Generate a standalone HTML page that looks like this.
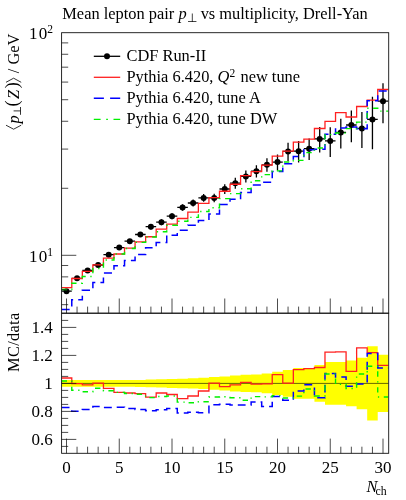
<!DOCTYPE html><html><head><meta charset="utf-8"><style>html,body{margin:0;padding:0;background:#fff}body{width:406px;height:500px;position:relative;overflow:hidden;font-family:"Liberation Serif",serif}</style></head><body><svg width="406" height="500" viewBox="0 0 406 500" style="position:absolute;left:0;top:0;will-change:transform">
<defs><clipPath id="cm"><rect x="61.60" y="32.70" width="327.10" height="280.50"/></clipPath><clipPath id="cr"><rect x="61.60" y="313.20" width="327.10" height="140.10"/></clipPath></defs>
<g clip-path="url(#cr)">
<path d="M61.60 380.04 L71.78 380.04 L71.78 380.04 L82.33 380.04 L82.33 380.04 L92.88 380.04 L92.88 380.04 L103.43 380.04 L103.43 380.04 L113.97 380.04 L113.97 380.04 L124.53 380.04 L124.53 380.04 L135.07 380.04 L135.07 379.90 L145.62 379.90 L145.62 379.48 L156.18 379.48 L156.18 379.20 L166.73 379.20 L166.73 378.92 L177.28 378.92 L177.28 378.64 L187.82 378.64 L187.82 378.36 L198.38 378.36 L198.38 377.80 L208.93 377.80 L208.93 377.10 L219.48 377.10 L219.48 376.40 L230.03 376.40 L230.03 375.42 L240.58 375.42 L240.58 374.72 L251.12 374.72 L251.12 374.58 L261.68 374.58 L261.68 373.60 L272.23 373.60 L272.23 371.78 L282.77 371.78 L282.77 370.10 L293.33 370.10 L293.33 368.00 L303.88 368.00 L303.88 368.00 L314.43 368.00 L314.43 365.06 L324.98 365.06 L324.98 361.98 L335.53 361.98 L335.53 361.98 L346.08 361.98 L346.08 360.58 L356.62 360.58 L356.62 357.64 L367.18 357.64 L367.18 346.30 L377.73 346.30 L377.73 354.84 L388.28 354.84 L388.28 411.96 L377.73 411.96 L377.73 420.50 L367.18 420.50 L367.18 409.16 L356.62 409.16 L356.62 406.22 L346.08 406.22 L346.08 404.82 L335.53 404.82 L335.53 404.82 L324.98 404.82 L324.98 401.74 L314.43 401.74 L314.43 398.80 L303.88 398.80 L303.88 398.80 L293.33 398.80 L293.33 396.70 L282.77 396.70 L282.77 395.02 L272.23 395.02 L272.23 393.20 L261.68 393.20 L261.68 392.22 L251.12 392.22 L251.12 392.08 L240.58 392.08 L240.58 391.38 L230.03 391.38 L230.03 390.40 L219.48 390.40 L219.48 389.70 L208.93 389.70 L208.93 389.00 L198.38 389.00 L198.38 388.44 L187.82 388.44 L187.82 388.16 L177.28 388.16 L177.28 387.88 L166.73 387.88 L166.73 387.60 L156.18 387.60 L156.18 387.32 L145.62 387.32 L145.62 386.90 L135.07 386.90 L135.07 386.76 L124.53 386.76 L124.53 386.76 L113.97 386.76 L113.97 386.76 L103.43 386.76 L103.43 386.76 L92.88 386.76 L92.88 386.76 L82.33 386.76 L82.33 386.76 L71.78 386.76 L71.78 386.76 L61.60 386.76 Z" fill="#ffff00"/>
<line x1="61.60" x2="388.70" y1="383.40" y2="383.40" stroke="#000" stroke-width="0.6"/>
<path d="M61.60 378.00 L71.78 378.00 L71.78 383.70 L82.33 383.70 L82.33 384.80 L92.88 384.80 L92.88 383.10 L103.43 383.10 L103.43 388.30 L113.97 388.30 L113.97 392.40 L124.53 392.40 L124.53 393.00 L135.07 393.00 L135.07 393.70 L145.62 393.70 L145.62 397.20 L156.18 397.20 L156.18 393.00 L166.73 393.00 L166.73 394.50 L177.28 394.50 L177.28 398.60 L187.82 398.60 L187.82 396.00 L198.38 396.00 L198.38 391.00 L208.93 391.00 L208.93 383.10 L219.48 383.10 L219.48 386.60 L230.03 386.60 L230.03 384.90 L240.58 384.90 L240.58 382.40 L251.12 382.40 L251.12 384.10 L261.68 384.10 L261.68 383.90 L272.23 383.90 L272.23 374.60 L282.77 374.60 L282.77 383.10 L293.33 383.10 L293.33 369.60 L303.88 369.60 L303.88 368.70 L314.43 368.70 L314.43 367.50 L324.98 367.50 L324.98 352.20 L335.53 352.20 L335.53 351.80 L346.08 351.80 L346.08 371.30 L356.62 371.30 L356.62 347.80 L367.18 347.80 L367.18 352.60 L377.73 352.60 L377.73 365.40 L388.28 365.40" fill="none" stroke="#ff2020" stroke-width="1.3"/>
<path d="M61.60 407.50 L71.78 407.50 L71.78 411.30 L82.33 411.30 L82.33 409.40 L92.88 409.40 L92.88 406.60 L103.43 406.60 L103.43 407.40 L113.97 407.40 L113.97 407.30 L124.53 407.30 L124.53 408.60 L135.07 408.60 L135.07 409.50 L145.62 409.50 L145.62 410.80 L156.18 410.80 L156.18 409.80 L166.73 409.80 L166.73 408.50 L177.28 408.50 L177.28 413.00 L187.82 413.00 L187.82 412.20 L198.38 412.20 L198.38 412.70 L208.93 412.70 L208.93 404.80 L219.48 404.80 L219.48 404.20 L230.03 404.20 L230.03 404.90 L240.58 404.90 L240.58 405.00 L251.12 405.00 L251.12 402.10 L261.68 402.10 L261.68 406.50 L272.23 406.50 L272.23 396.50 L282.77 396.50 L282.77 400.30 L293.33 400.30 L293.33 391.00 L303.88 391.00 L303.88 384.80 L314.43 384.80 L314.43 397.70 L324.98 397.70 L324.98 373.60 L335.53 373.60 L335.53 377.00 L346.08 377.00 L346.08 386.20 L356.62 386.20 L356.62 384.00 L367.18 384.00 L367.18 353.40 L377.73 353.40 L377.73 368.00 L388.28 368.00" fill="none" stroke="#0000ff" stroke-width="1.5" stroke-dasharray="7.9 5"/>
<path d="M61.60 381.00 L71.78 381.00 L71.78 390.30 L82.33 390.30 L82.33 391.80 L92.88 391.80 L92.88 388.30 L103.43 388.30 L103.43 390.80 L113.97 390.80 L113.97 392.40 L124.53 392.40 L124.53 393.50 L135.07 393.50 L135.07 394.30 L145.62 394.30 L145.62 397.60 L156.18 397.60 L156.18 396.50 L166.73 396.50 L166.73 396.00 L177.28 396.00 L177.28 402.10 L187.82 402.10 L187.82 402.80 L198.38 402.80 L198.38 401.70 L208.93 401.70 L208.93 397.00 L219.48 397.00 L219.48 396.70 L230.03 396.70 L230.03 397.70 L240.58 397.70 L240.58 400.20 L251.12 400.20 L251.12 396.60 L261.68 396.60 L261.68 396.90 L272.23 396.90 L272.23 395.60 L282.77 395.60 L282.77 398.00 L293.33 398.00 L293.33 396.10 L303.88 396.10 L303.88 389.00 L314.43 389.00 L314.43 396.00 L324.98 396.00 L324.98 374.00 L335.53 374.00 L335.53 384.30 L346.08 384.30 L346.08 388.50 L356.62 388.50 L356.62 374.00 L367.18 374.00 L367.18 366.20 L377.73 366.20 L377.73 397.00 L388.28 397.00" fill="none" stroke="#00f000" stroke-width="1.4" stroke-dasharray="5.4 4.6 1.3 4.6"/>
</g>
<g clip-path="url(#cm)">
<line x1="66.50" x2="66.50" y1="288.91" y2="293.55" stroke="#000" stroke-width="1.3"/>
<line x1="61.23" x2="71.78" y1="291.20" y2="291.20" stroke="#000" stroke-width="1.3"/>
<circle cx="66.50" cy="291.20" r="3" fill="#000"/>
<line x1="77.05" x2="77.05" y1="276.01" y2="280.65" stroke="#000" stroke-width="1.3"/>
<line x1="71.77" x2="82.33" y1="278.30" y2="278.30" stroke="#000" stroke-width="1.3"/>
<circle cx="77.05" cy="278.30" r="3" fill="#000"/>
<line x1="87.60" x2="87.60" y1="268.21" y2="272.85" stroke="#000" stroke-width="1.3"/>
<line x1="82.32" x2="92.88" y1="270.50" y2="270.50" stroke="#000" stroke-width="1.3"/>
<circle cx="87.60" cy="270.50" r="3" fill="#000"/>
<line x1="98.15" x2="98.15" y1="262.71" y2="267.35" stroke="#000" stroke-width="1.3"/>
<line x1="92.88" x2="103.43" y1="265.00" y2="265.00" stroke="#000" stroke-width="1.3"/>
<circle cx="98.15" cy="265.00" r="3" fill="#000"/>
<line x1="108.70" x2="108.70" y1="252.41" y2="257.05" stroke="#000" stroke-width="1.3"/>
<line x1="103.42" x2="113.98" y1="254.70" y2="254.70" stroke="#000" stroke-width="1.3"/>
<circle cx="108.70" cy="254.70" r="3" fill="#000"/>
<line x1="119.25" x2="119.25" y1="245.31" y2="249.95" stroke="#000" stroke-width="1.3"/>
<line x1="113.97" x2="124.53" y1="247.60" y2="247.60" stroke="#000" stroke-width="1.3"/>
<circle cx="119.25" cy="247.60" r="3" fill="#000"/>
<line x1="129.80" x2="129.80" y1="238.91" y2="243.55" stroke="#000" stroke-width="1.3"/>
<line x1="124.53" x2="135.08" y1="241.20" y2="241.20" stroke="#000" stroke-width="1.3"/>
<circle cx="129.80" cy="241.20" r="3" fill="#000"/>
<line x1="140.35" x2="140.35" y1="232.11" y2="236.95" stroke="#000" stroke-width="1.3"/>
<line x1="135.08" x2="145.63" y1="234.50" y2="234.50" stroke="#000" stroke-width="1.3"/>
<circle cx="140.35" cy="234.50" r="3" fill="#000"/>
<line x1="150.90" x2="150.90" y1="224.03" y2="229.45" stroke="#000" stroke-width="1.3"/>
<line x1="145.62" x2="156.18" y1="226.70" y2="226.70" stroke="#000" stroke-width="1.3"/>
<circle cx="150.90" cy="226.70" r="3" fill="#000"/>
<line x1="161.45" x2="161.45" y1="219.34" y2="225.14" stroke="#000" stroke-width="1.3"/>
<line x1="156.17" x2="166.72" y1="222.20" y2="222.20" stroke="#000" stroke-width="1.3"/>
<circle cx="161.45" cy="222.20" r="3" fill="#000"/>
<line x1="172.00" x2="172.00" y1="213.15" y2="219.34" stroke="#000" stroke-width="1.3"/>
<line x1="166.72" x2="177.28" y1="216.20" y2="216.20" stroke="#000" stroke-width="1.3"/>
<circle cx="172.00" cy="216.20" r="3" fill="#000"/>
<line x1="182.55" x2="182.55" y1="204.17" y2="210.74" stroke="#000" stroke-width="1.3"/>
<line x1="177.28" x2="187.83" y1="207.40" y2="207.40" stroke="#000" stroke-width="1.3"/>
<circle cx="182.55" cy="207.40" r="3" fill="#000"/>
<line x1="193.10" x2="193.10" y1="199.58" y2="206.54" stroke="#000" stroke-width="1.3"/>
<line x1="187.83" x2="198.38" y1="203.00" y2="203.00" stroke="#000" stroke-width="1.3"/>
<circle cx="193.10" cy="203.00" r="3" fill="#000"/>
<line x1="203.65" x2="203.65" y1="194.11" y2="201.85" stroke="#000" stroke-width="1.3"/>
<line x1="198.38" x2="208.93" y1="197.90" y2="197.90" stroke="#000" stroke-width="1.3"/>
<circle cx="203.65" cy="197.90" r="3" fill="#000"/>
<line x1="214.20" x2="214.20" y1="193.64" y2="202.35" stroke="#000" stroke-width="1.3"/>
<line x1="208.93" x2="219.48" y1="197.90" y2="197.90" stroke="#000" stroke-width="1.3"/>
<circle cx="214.20" cy="197.90" r="3" fill="#000"/>
<line x1="224.75" x2="224.75" y1="184.28" y2="193.96" stroke="#000" stroke-width="1.3"/>
<line x1="219.47" x2="230.03" y1="189.00" y2="189.00" stroke="#000" stroke-width="1.3"/>
<circle cx="224.75" cy="189.00" r="3" fill="#000"/>
<line x1="235.30" x2="235.30" y1="177.84" y2="188.87" stroke="#000" stroke-width="1.3"/>
<line x1="230.03" x2="240.58" y1="183.20" y2="183.20" stroke="#000" stroke-width="1.3"/>
<circle cx="235.30" cy="183.20" r="3" fill="#000"/>
<line x1="245.85" x2="245.85" y1="170.58" y2="182.59" stroke="#000" stroke-width="1.3"/>
<line x1="240.58" x2="251.13" y1="176.40" y2="176.40" stroke="#000" stroke-width="1.3"/>
<circle cx="245.85" cy="176.40" r="3" fill="#000"/>
<line x1="256.40" x2="256.40" y1="165.29" y2="177.49" stroke="#000" stroke-width="1.3"/>
<line x1="251.12" x2="261.67" y1="171.20" y2="171.20" stroke="#000" stroke-width="1.3"/>
<circle cx="256.40" cy="171.20" r="3" fill="#000"/>
<line x1="266.95" x2="266.95" y1="158.26" y2="171.82" stroke="#000" stroke-width="1.3"/>
<line x1="261.68" x2="272.23" y1="164.80" y2="164.80" stroke="#000" stroke-width="1.3"/>
<circle cx="266.95" cy="164.80" r="3" fill="#000"/>
<line x1="277.50" x2="277.50" y1="154.39" y2="170.48" stroke="#000" stroke-width="1.3"/>
<line x1="272.23" x2="282.77" y1="162.10" y2="162.10" stroke="#000" stroke-width="1.3"/>
<circle cx="277.50" cy="162.10" r="3" fill="#000"/>
<line x1="288.05" x2="288.05" y1="142.63" y2="161.05" stroke="#000" stroke-width="1.3"/>
<line x1="282.78" x2="293.32" y1="151.40" y2="151.40" stroke="#000" stroke-width="1.3"/>
<circle cx="288.05" cy="151.40" r="3" fill="#000"/>
<line x1="298.60" x2="298.60" y1="141.11" y2="162.47" stroke="#000" stroke-width="1.3"/>
<line x1="293.33" x2="303.88" y1="151.20" y2="151.20" stroke="#000" stroke-width="1.3"/>
<circle cx="298.60" cy="151.20" r="3" fill="#000"/>
<line x1="309.15" x2="309.15" y1="138.61" y2="159.97" stroke="#000" stroke-width="1.3"/>
<line x1="303.88" x2="314.42" y1="148.70" y2="148.70" stroke="#000" stroke-width="1.3"/>
<circle cx="309.15" cy="148.70" r="3" fill="#000"/>
<line x1="319.70" x2="319.70" y1="127.00" y2="152.47" stroke="#000" stroke-width="1.3"/>
<line x1="314.43" x2="324.98" y1="138.90" y2="138.90" stroke="#000" stroke-width="1.3"/>
<circle cx="319.70" cy="138.90" r="3" fill="#000"/>
<line x1="330.25" x2="330.25" y1="127.14" y2="156.95" stroke="#000" stroke-width="1.3"/>
<line x1="324.98" x2="335.52" y1="140.90" y2="140.90" stroke="#000" stroke-width="1.3"/>
<circle cx="330.25" cy="140.90" r="3" fill="#000"/>
<line x1="340.80" x2="340.80" y1="118.64" y2="148.45" stroke="#000" stroke-width="1.3"/>
<line x1="335.53" x2="346.07" y1="132.40" y2="132.40" stroke="#000" stroke-width="1.3"/>
<circle cx="340.80" cy="132.40" r="3" fill="#000"/>
<line x1="351.35" x2="351.35" y1="110.40" y2="142.20" stroke="#000" stroke-width="1.3"/>
<line x1="346.08" x2="356.62" y1="125.00" y2="125.00" stroke="#000" stroke-width="1.3"/>
<circle cx="351.35" cy="125.00" r="3" fill="#000"/>
<line x1="361.90" x2="361.90" y1="112.07" y2="148.06" stroke="#000" stroke-width="1.3"/>
<line x1="356.63" x2="367.18" y1="128.40" y2="128.40" stroke="#000" stroke-width="1.3"/>
<circle cx="361.90" cy="128.40" r="3" fill="#000"/>
<line x1="372.45" x2="372.45" y1="96.67" y2="149.16" stroke="#000" stroke-width="1.3"/>
<line x1="367.18" x2="377.73" y1="119.40" y2="119.40" stroke="#000" stroke-width="1.3"/>
<circle cx="372.45" cy="119.40" r="3" fill="#000"/>
<line x1="383.00" x2="383.00" y1="83.25" y2="123.26" stroke="#000" stroke-width="1.3"/>
<line x1="377.73" x2="388.27" y1="101.20" y2="101.20" stroke="#000" stroke-width="1.3"/>
<circle cx="383.00" cy="101.20" r="3" fill="#000"/>
<path d="M61.60 287.54 L71.78 287.54 L71.78 278.51 L82.33 278.51 L82.33 271.47 L92.88 271.47 L92.88 264.79 L103.43 264.79 L103.43 258.14 L113.97 258.14 L113.97 254.02 L124.53 254.02 L124.53 248.07 L135.07 248.07 L135.07 241.89 L145.62 241.89 L145.62 236.73 L156.18 236.73 L156.18 229.07 L166.73 229.07 L166.73 224.19 L177.28 224.19 L177.28 218.51 L187.82 218.51 L187.82 212.12 L198.38 212.12 L198.38 203.30 L208.93 203.30 L208.93 197.69 L219.48 197.69 L219.48 191.24 L230.03 191.24 L230.03 184.24 L240.58 184.24 L240.58 175.71 L251.12 175.71 L251.12 171.68 L261.68 171.68 L261.68 165.15 L272.23 165.15 L272.23 156.21 L282.77 156.21 L282.77 151.19 L293.33 151.19 L293.33 142.11 L303.88 142.11 L303.88 139.05 L314.43 139.05 L314.43 128.50 L324.98 128.50 L324.98 121.45 L335.53 121.45 L335.53 112.72 L346.08 112.72 L346.08 116.99 L356.62 116.99 L356.62 106.50 L367.18 106.50 L367.18 100.18 L377.73 100.18 L377.73 89.51 L388.28 89.51" fill="none" stroke="#ff2020" stroke-width="1.3"/>
<path d="M61.60 309.46 L71.78 309.46 L71.78 299.79 L82.33 299.79 L82.33 290.36 L92.88 290.36 L92.88 282.52 L103.43 282.52 L103.43 272.88 L113.97 272.88 L113.97 265.70 L124.53 265.70 L124.53 260.39 L135.07 260.39 L135.07 254.45 L145.62 254.45 L145.62 247.76 L156.18 247.76 L156.18 242.40 L166.73 242.40 L166.73 235.30 L177.28 235.30 L177.28 230.36 L187.82 230.36 L187.82 225.27 L198.38 225.27 L198.38 220.60 L208.93 220.60 L208.93 213.94 L219.48 213.94 L219.48 204.55 L230.03 204.55 L230.03 199.32 L240.58 199.32 L240.58 192.60 L251.12 192.60 L251.12 185.06 L261.68 185.06 L261.68 182.23 L272.23 182.23 L272.23 171.60 L282.77 171.60 L282.77 163.84 L293.33 163.84 L293.33 156.60 L303.88 156.60 L303.88 149.67 L314.43 149.67 L314.43 149.32 L324.98 149.32 L324.98 134.36 L335.53 134.36 L335.53 128.08 L346.08 128.08 L346.08 126.95 L356.62 126.95 L356.62 128.82 L367.18 128.82 L367.18 100.63 L377.73 100.63 L377.73 91.11 L388.28 91.11" fill="none" stroke="#0000ff" stroke-width="1.5" stroke-dasharray="8.05 5.1"/>
<path d="M61.60 289.56 L71.78 289.56 L71.78 283.19 L82.33 283.19 L82.33 276.48 L92.88 276.48 L92.88 268.44 L103.43 268.44 L103.43 259.95 L113.97 259.95 L113.97 254.02 L124.53 254.02 L124.53 248.44 L135.07 248.44 L135.07 242.34 L145.62 242.34 L145.62 237.04 L156.18 237.04 L156.18 231.70 L166.73 231.70 L166.73 225.32 L177.28 225.32 L177.28 221.26 L187.82 221.26 L187.82 217.42 L198.38 217.42 L198.38 211.44 L208.93 211.44 L208.93 207.78 L219.48 207.78 L219.48 198.65 L230.03 198.65 L230.03 193.62 L240.58 193.62 L240.58 188.76 L251.12 188.76 L251.12 180.77 L261.68 180.77 L261.68 174.60 L272.23 174.60 L272.23 170.91 L282.77 170.91 L282.77 162.05 L293.33 162.05 L293.33 160.39 L303.88 160.39 L303.88 152.65 L314.43 152.65 L314.43 148.02 L324.98 148.02 L324.98 134.62 L335.53 134.62 L335.53 133.02 L346.08 133.02 L346.08 128.59 L356.62 128.59 L356.62 122.12 L367.18 122.12 L367.18 108.20 L377.73 108.20 L377.73 111.08 L388.28 111.08" fill="none" stroke="#00f000" stroke-width="1.4" stroke-dasharray="5.4 4.6 1.3 4.6"/>
</g>
<g stroke="#111" stroke-width="0.9" fill="none">
<rect x="61.60" y="32.70" width="327.10" height="280.50"/>
<rect x="61.60" y="313.20" width="327.10" height="140.10"/>
</g><g stroke="#111" stroke-width="0.75" fill="none">
<line x1="66.50" x2="66.50" y1="313.20" y2="298.50"/>
<line x1="66.50" x2="66.50" y1="453.30" y2="438.60"/>
<line x1="77.05" x2="77.05" y1="313.20" y2="306.60"/>
<line x1="77.05" x2="77.05" y1="453.30" y2="446.70"/>
<line x1="87.60" x2="87.60" y1="313.20" y2="306.60"/>
<line x1="87.60" x2="87.60" y1="453.30" y2="446.70"/>
<line x1="98.15" x2="98.15" y1="313.20" y2="306.60"/>
<line x1="98.15" x2="98.15" y1="453.30" y2="446.70"/>
<line x1="108.70" x2="108.70" y1="313.20" y2="306.60"/>
<line x1="108.70" x2="108.70" y1="453.30" y2="446.70"/>
<line x1="119.25" x2="119.25" y1="313.20" y2="298.50"/>
<line x1="119.25" x2="119.25" y1="453.30" y2="438.60"/>
<line x1="129.80" x2="129.80" y1="313.20" y2="306.60"/>
<line x1="129.80" x2="129.80" y1="453.30" y2="446.70"/>
<line x1="140.35" x2="140.35" y1="313.20" y2="306.60"/>
<line x1="140.35" x2="140.35" y1="453.30" y2="446.70"/>
<line x1="150.90" x2="150.90" y1="313.20" y2="306.60"/>
<line x1="150.90" x2="150.90" y1="453.30" y2="446.70"/>
<line x1="161.45" x2="161.45" y1="313.20" y2="306.60"/>
<line x1="161.45" x2="161.45" y1="453.30" y2="446.70"/>
<line x1="172.00" x2="172.00" y1="313.20" y2="298.50"/>
<line x1="172.00" x2="172.00" y1="453.30" y2="438.60"/>
<line x1="182.55" x2="182.55" y1="313.20" y2="306.60"/>
<line x1="182.55" x2="182.55" y1="453.30" y2="446.70"/>
<line x1="193.10" x2="193.10" y1="313.20" y2="306.60"/>
<line x1="193.10" x2="193.10" y1="453.30" y2="446.70"/>
<line x1="203.65" x2="203.65" y1="313.20" y2="306.60"/>
<line x1="203.65" x2="203.65" y1="453.30" y2="446.70"/>
<line x1="214.20" x2="214.20" y1="313.20" y2="306.60"/>
<line x1="214.20" x2="214.20" y1="453.30" y2="446.70"/>
<line x1="224.75" x2="224.75" y1="313.20" y2="298.50"/>
<line x1="224.75" x2="224.75" y1="453.30" y2="438.60"/>
<line x1="235.30" x2="235.30" y1="313.20" y2="306.60"/>
<line x1="235.30" x2="235.30" y1="453.30" y2="446.70"/>
<line x1="245.85" x2="245.85" y1="313.20" y2="306.60"/>
<line x1="245.85" x2="245.85" y1="453.30" y2="446.70"/>
<line x1="256.40" x2="256.40" y1="313.20" y2="306.60"/>
<line x1="256.40" x2="256.40" y1="453.30" y2="446.70"/>
<line x1="266.95" x2="266.95" y1="313.20" y2="306.60"/>
<line x1="266.95" x2="266.95" y1="453.30" y2="446.70"/>
<line x1="277.50" x2="277.50" y1="313.20" y2="298.50"/>
<line x1="277.50" x2="277.50" y1="453.30" y2="438.60"/>
<line x1="288.05" x2="288.05" y1="313.20" y2="306.60"/>
<line x1="288.05" x2="288.05" y1="453.30" y2="446.70"/>
<line x1="298.60" x2="298.60" y1="313.20" y2="306.60"/>
<line x1="298.60" x2="298.60" y1="453.30" y2="446.70"/>
<line x1="309.15" x2="309.15" y1="313.20" y2="306.60"/>
<line x1="309.15" x2="309.15" y1="453.30" y2="446.70"/>
<line x1="319.70" x2="319.70" y1="313.20" y2="306.60"/>
<line x1="319.70" x2="319.70" y1="453.30" y2="446.70"/>
<line x1="330.25" x2="330.25" y1="313.20" y2="298.50"/>
<line x1="330.25" x2="330.25" y1="453.30" y2="438.60"/>
<line x1="340.80" x2="340.80" y1="313.20" y2="306.60"/>
<line x1="340.80" x2="340.80" y1="453.30" y2="446.70"/>
<line x1="351.35" x2="351.35" y1="313.20" y2="306.60"/>
<line x1="351.35" x2="351.35" y1="453.30" y2="446.70"/>
<line x1="361.90" x2="361.90" y1="313.20" y2="306.60"/>
<line x1="361.90" x2="361.90" y1="453.30" y2="446.70"/>
<line x1="372.45" x2="372.45" y1="313.20" y2="306.60"/>
<line x1="372.45" x2="372.45" y1="453.30" y2="446.70"/>
<line x1="383.00" x2="383.00" y1="313.20" y2="298.50"/>
<line x1="383.00" x2="383.00" y1="453.30" y2="438.60"/>
<line x1="61.60" x2="68.20" y1="304.68" y2="304.68"/>
<line x1="61.60" x2="68.20" y1="289.78" y2="289.78"/>
<line x1="61.60" x2="68.20" y1="276.87" y2="276.87"/>
<line x1="61.60" x2="68.20" y1="265.49" y2="265.49"/>
<line x1="61.60" x2="76.30" y1="255.30" y2="255.30"/>
<line x1="61.60" x2="68.20" y1="188.29" y2="188.29"/>
<line x1="61.60" x2="68.20" y1="149.09" y2="149.09"/>
<line x1="61.60" x2="68.20" y1="121.28" y2="121.28"/>
<line x1="61.60" x2="68.20" y1="99.71" y2="99.71"/>
<line x1="61.60" x2="68.20" y1="82.08" y2="82.08"/>
<line x1="61.60" x2="68.20" y1="67.18" y2="67.18"/>
<line x1="61.60" x2="68.20" y1="54.27" y2="54.27"/>
<line x1="61.60" x2="68.20" y1="42.89" y2="42.89"/>
<line x1="61.60" x2="68.20" y1="446.40" y2="446.40"/>
<line x1="61.60" x2="76.30" y1="439.40" y2="439.40"/>
<line x1="61.60" x2="68.20" y1="432.40" y2="432.40"/>
<line x1="61.60" x2="68.20" y1="425.40" y2="425.40"/>
<line x1="61.60" x2="68.20" y1="418.40" y2="418.40"/>
<line x1="61.60" x2="76.30" y1="411.40" y2="411.40"/>
<line x1="61.60" x2="68.20" y1="404.40" y2="404.40"/>
<line x1="61.60" x2="68.20" y1="397.40" y2="397.40"/>
<line x1="61.60" x2="68.20" y1="390.40" y2="390.40"/>
<line x1="61.60" x2="76.30" y1="383.40" y2="383.40"/>
<line x1="61.60" x2="68.20" y1="376.40" y2="376.40"/>
<line x1="61.60" x2="68.20" y1="369.40" y2="369.40"/>
<line x1="61.60" x2="68.20" y1="362.40" y2="362.40"/>
<line x1="61.60" x2="76.30" y1="355.40" y2="355.40"/>
<line x1="61.60" x2="68.20" y1="348.40" y2="348.40"/>
<line x1="61.60" x2="68.20" y1="341.40" y2="341.40"/>
<line x1="61.60" x2="68.20" y1="334.40" y2="334.40"/>
<line x1="61.60" x2="76.30" y1="327.40" y2="327.40"/>
<line x1="61.60" x2="68.20" y1="320.40" y2="320.40"/>
</g>
<line x1="93.80" x2="120.20" y1="56.3" y2="56.3" stroke="#000" stroke-width="1.3"/>
<circle cx="107" cy="56.3" r="3" fill="#000"/>
<line x1="93.80" x2="120.20" y1="77.3" y2="77.3" stroke="#ff2020" stroke-width="1.3"/>
<line x1="93.80" x2="120.20" y1="98.3" y2="98.3" stroke="#0000ff" stroke-width="1.5" stroke-dasharray="10.1 6.2"/>
<line x1="93.80" x2="120.20" y1="119.4" y2="119.4" stroke="#00f000" stroke-width="1.4" stroke-dasharray="6.8 5.6 1.7 5.6"/>
<g font-family="Liberation Serif, serif" font-size="16.4" fill="#000">
<text x="62.3" y="18.6">Mean lepton pair <tspan font-style="italic">p</tspan><tspan font-size="11.5" dy="3">⊥</tspan><tspan dy="-3"> vs multiplicity, Drell-Yan</tspan></text>
<text x="126.5" y="61.2">CDF Run-II</text>
<text x="126.5" y="82.2">Pythia 6.420, <tspan font-style="italic">Q</tspan><tspan font-size="11.5" dy="-5.5">2</tspan><tspan dy="5.5" dx="1.2"> new tune</tspan></text>
<text x="126.5" y="103.2">Pythia 6.420, tune A</text>
<text x="126.5" y="124.2">Pythia 6.420, tune DW</text>
<text x="53" y="39.4" text-anchor="end" font-size="17"><tspan letter-spacing="1.3">1</tspan>0<tspan font-size="11.5" dy="-6">2</tspan></text>
<text x="53" y="262.2" text-anchor="end" font-size="17"><tspan letter-spacing="1.3">1</tspan>0<tspan font-size="11.5" dy="-6">1</tspan></text>
<text x="52.7" y="332.7" text-anchor="end" font-size="17">1.4</text>
<text x="52.7" y="360.7" text-anchor="end" font-size="17">1.2</text>
<text x="52.7" y="388.7" text-anchor="end" font-size="17">1</text>
<text x="52.7" y="416.7" text-anchor="end" font-size="17">0.8</text>
<text x="52.7" y="444.7" text-anchor="end" font-size="17">0.6</text>
<text x="66.5" y="472.7" text-anchor="middle" font-size="17">0</text>
<text x="119.2" y="472.7" text-anchor="middle" font-size="17">5</text>
<text x="172.0" y="472.7" text-anchor="middle" font-size="17">10</text>
<text x="224.8" y="472.7" text-anchor="middle" font-size="17">15</text>
<text x="277.5" y="472.7" text-anchor="middle" font-size="17">20</text>
<text x="330.2" y="472.7" text-anchor="middle" font-size="17">25</text>
<text x="383.0" y="472.7" text-anchor="middle" font-size="17">30</text>
<text x="366.6" y="491.8" font-style="italic">N</text>
<text x="375.6" y="494.8" font-size="11.8">ch</text>
<g transform="translate(19.3,33.3) rotate(-90)">
<text x="-0.3" y="0" text-anchor="end">/ GeV</text>
<polyline points="-49,-13.3 -44.9,-5.7 -49,1.9" fill="none" stroke="#000" stroke-width="0.8"/>
<text x="-54.9" y="-1.3" font-size="18">)</text>
<text x="-65.7" y="0" font-style="italic">Z</text>
<text x="-73.3" y="-1.3" font-size="18">(</text>
<path d="M-81.5 1.2 H-73.7 M-77.6 1.2 V-5.7" fill="none" stroke="#000" stroke-width="0.8"/>
<text x="-90.3" y="0" font-style="italic">p</text>
<polyline points="-91.9,-13.3 -95.9,-5.7 -91.9,1.9" fill="none" stroke="#000" stroke-width="0.8"/>
</g>
<text transform="translate(19.2,312.5) rotate(-90)" text-anchor="end" letter-spacing="0.3">MC/data</text>
</g>
</svg></body></html>
